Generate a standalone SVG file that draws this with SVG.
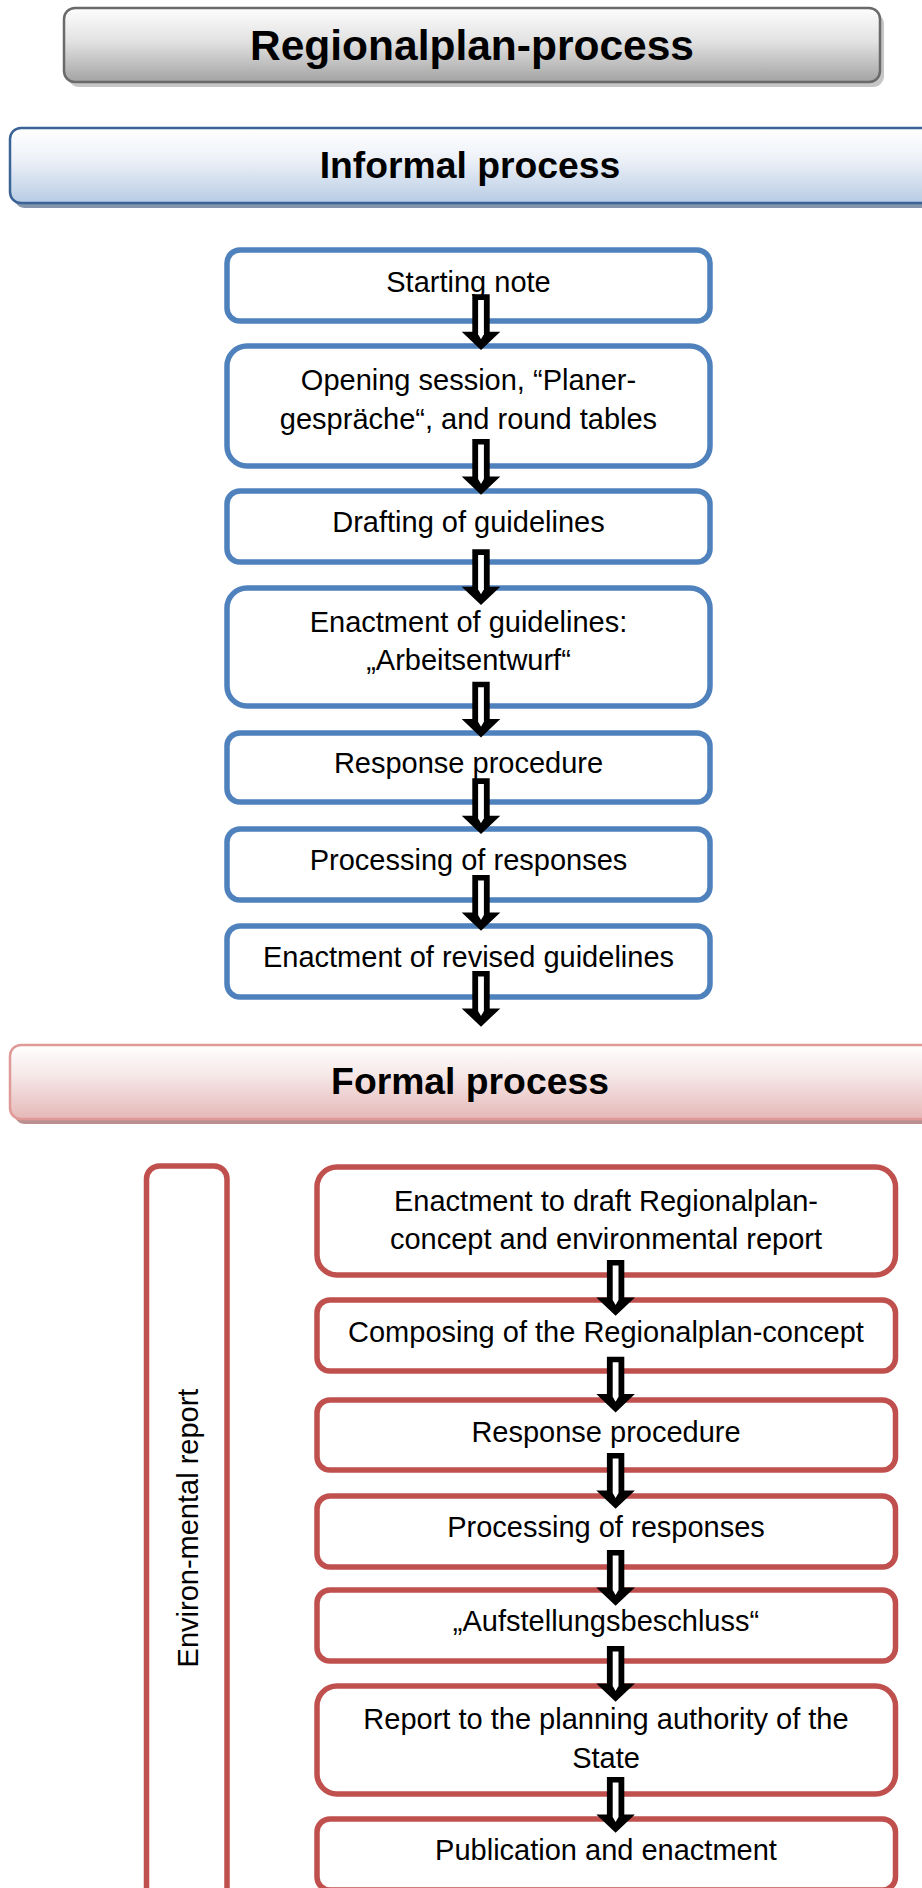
<svg xmlns="http://www.w3.org/2000/svg" xmlns:xlink="http://www.w3.org/1999/xlink" width="922" height="1888" viewBox="0 0 922 1888">
<defs>
<linearGradient id="gGray" x1="0" y1="0" x2="0" y2="1">
<stop offset="0" stop-color="#fdfdfd"/><stop offset="0.45" stop-color="#e2e2e2"/><stop offset="1" stop-color="#a3a3a3"/>
</linearGradient>
<linearGradient id="gBlue" x1="0" y1="0" x2="0" y2="1">
<stop offset="0" stop-color="#ffffff"/><stop offset="0.4" stop-color="#eef2f8"/><stop offset="1" stop-color="#b8cce4"/>
</linearGradient>
<linearGradient id="gRed" x1="0" y1="0" x2="0" y2="1">
<stop offset="0" stop-color="#ffffff"/><stop offset="0.4" stop-color="#f6e8e8"/><stop offset="1" stop-color="#e5b8b7"/>
</linearGradient>
<g id="arr">
<path d="M-8.7,0 H8.7 V37.4 H19.3 L0,55.7 L-19.3,37.4 H-8.7 Z" fill="#000"/>
<path d="M-2.9,5.6 H2.9 V40 L0,45 L-2.9,40 Z" fill="#fff"/>
</g>
</defs>
<style>
text{font-family:"Liberation Sans",Arial,sans-serif;fill:#000;text-anchor:middle}
.hd{font-weight:bold}
.t{font-size:29px}
.bi{fill:#fff;stroke:#4f81bd;stroke-width:5.5}
.br{fill:#fff;stroke:#c0504d;stroke-width:5.5}
</style>
<rect width="922" height="1888" fill="#fff"/>

<g id="title">
<rect x="68" y="13" width="816" height="74" rx="11" fill="#c6c6c6"/>
<rect x="64" y="8" width="816" height="74" rx="11" fill="url(#gGray)" stroke="#6a6a6a" stroke-width="2.5"/>
<text x="472" y="60" class="hd" font-size="42.5">Regionalplan-process</text>
</g>

<g id="informal-header">
<rect x="14" y="133" width="930" height="75" rx="11" fill="#8494aa"/>
<rect x="10" y="128" width="930" height="75" rx="11" fill="url(#gBlue)" stroke="#3b6396" stroke-width="2.5"/>
<text x="470" y="178" class="hd" font-size="37.3">Informal process</text>
</g>

<g id="i1"><rect class="bi" x="227" y="250" width="483" height="71" rx="13"/>
<text class="t" x="468.5" y="292">Starting note</text></g>
<g id="i2"><rect class="bi" x="227" y="346" width="483" height="120" rx="20"/>
<text class="t" x="468.5" y="390">Opening session, “Planer-</text>
<text class="t" x="468.5" y="429">gespräche“, and round tables</text></g>
<g id="i3"><rect class="bi" x="227" y="491" width="483" height="71" rx="13"/>
<text class="t" x="468.5" y="532">Drafting of guidelines</text></g>
<g id="i4"><rect class="bi" x="227" y="588" width="483" height="118" rx="20"/>
<text class="t" x="468.5" y="632">Enactment of guidelines:</text>
<text class="t" x="468.5" y="670">„Arbeitsentwurf“</text></g>
<g id="i5"><rect class="bi" x="227" y="733" width="483" height="69" rx="13"/>
<text class="t" x="468.5" y="773">Response procedure</text></g>
<g id="i6"><rect class="bi" x="227" y="829" width="483" height="71" rx="13"/>
<text class="t" x="468.5" y="870">Processing of responses</text></g>
<g id="i7"><rect class="bi" x="227" y="926" width="483" height="71" rx="13"/>
<text class="t" x="468.5" y="967">Enactment of revised guidelines</text></g>

<g id="formal-header">
<rect x="14" y="1050" width="930" height="74" rx="11" fill="#bb8f8f"/>
<rect x="10" y="1045" width="930" height="74" rx="11" fill="url(#gRed)" stroke="#df9a98" stroke-width="2.5"/>
<text x="470" y="1094" class="hd" font-size="37.3">Formal process</text>
</g>

<g id="environ"><rect class="br" x="146.5" y="1166" width="80.5" height="1718" rx="13"/>
<text class="t" transform="translate(198,1528) rotate(-90)">Environ-mental report</text></g>

<g id="f1"><rect class="br" x="317" y="1167" width="578.5" height="108" rx="20"/>
<text class="t" x="606" y="1211">Enactment to draft Regionalplan-</text>
<text class="t" x="606" y="1249">concept and environmental report</text></g>
<g id="f2"><rect class="br" x="317" y="1300" width="578.5" height="71" rx="13"/>
<text class="t" x="606" y="1342">Composing of the Regionalplan-concept</text></g>
<g id="f3"><rect class="br" x="317" y="1400" width="578.5" height="70" rx="13"/>
<text class="t" x="606" y="1442">Response procedure</text></g>
<g id="f4"><rect class="br" x="317" y="1496" width="578.5" height="71" rx="13"/>
<text class="t" x="606" y="1537">Processing of responses</text></g>
<g id="f5"><rect class="br" x="317" y="1590" width="578.5" height="71" rx="13"/>
<text class="t" x="606" y="1631">„Aufstellungsbeschluss“</text></g>
<g id="f6"><rect class="br" x="317" y="1686" width="578.5" height="108" rx="20"/>
<text class="t" x="606" y="1729">Report to the planning authority of the</text>
<text class="t" x="606" y="1768">State</text></g>
<g id="f7"><rect class="br" x="317" y="1819" width="578.5" height="71" rx="13"/>
<text class="t" x="606" y="1860">Publication and enactment</text></g>

<g id="connectors">
<use xlink:href="#arr" x="481" y="294.3"/>
<use xlink:href="#arr" x="481" y="439"/>
<use xlink:href="#arr" x="481" y="549.3"/>
<use xlink:href="#arr" x="481" y="681.7"/>
<use xlink:href="#arr" x="481" y="778.3"/>
<use xlink:href="#arr" x="481" y="875"/>
<use xlink:href="#arr" x="481" y="971"/>
<use xlink:href="#arr" x="615.6" y="1260"/>
<use xlink:href="#arr" x="615.6" y="1356.7"/>
<use xlink:href="#arr" x="615.6" y="1453"/>
<use xlink:href="#arr" x="615.6" y="1550"/>
<use xlink:href="#arr" x="615.6" y="1646"/>
<use xlink:href="#arr" x="615.6" y="1777"/>
</g>
</svg>
